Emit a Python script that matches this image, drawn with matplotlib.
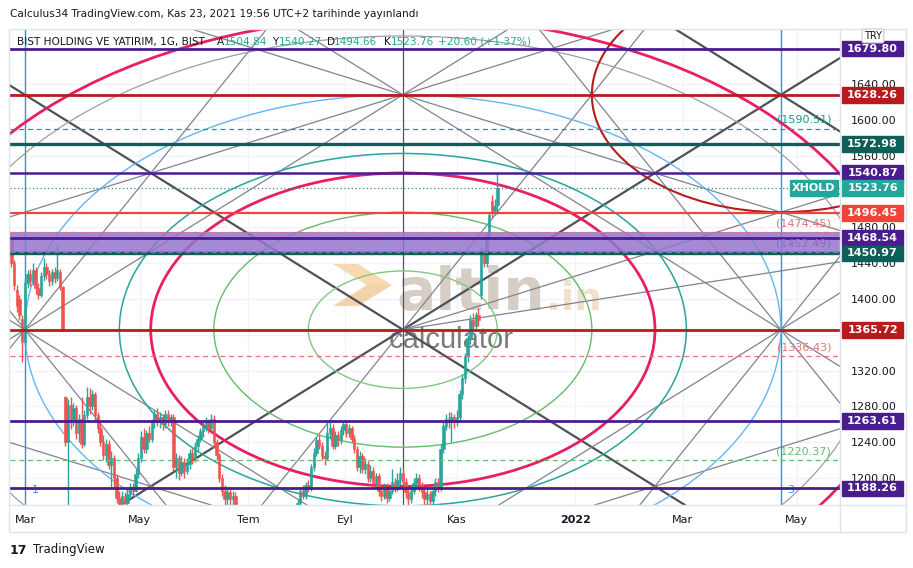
import numpy as np
import matplotlib.pyplot as plt
import matplotlib.patches as mpatches
import matplotlib.transforms as mtransforms

# daily candles, Feb 22 2021 .. Nov 23 2021 (bar index 0..180)
opens = [1466, 1440, 1410, 1400, 1378, 1352, 1418, 1428, 1420, 1432,
         1412, 1404, 1426, 1436, 1428, 1420, 1430, 1424, 1430, 1413,
         1290, 1240, 1282, 1262, 1278, 1250, 1266, 1238, 1270, 1290,
         1280, 1294, 1270, 1256, 1240, 1226, 1238, 1215, 1222, 1200,
         1178, 1170, 1180, 1172, 1182, 1190, 1186, 1205, 1222, 1246,
         1232, 1250, 1244, 1262, 1272, 1262, 1268, 1260, 1272, 1264,
         1268, 1212, 1222, 1206, 1218, 1208, 1216, 1228, 1222, 1236,
         1244, 1252, 1258, 1262, 1256, 1266, 1240, 1226, 1200, 1186,
         1176, 1184, 1176, 1180, 1168, 1160, 1150, 1145, 1152, 1140,
         1135, 1148, 1155, 1142, 1138, 1130, 1145, 1150, 1140, 1152,
         1158, 1148, 1155, 1160, 1150, 1158, 1150, 1172, 1186, 1180,
         1192, 1188, 1212, 1228, 1242, 1236, 1224, 1222, 1250, 1256,
         1236, 1248, 1242, 1254, 1260, 1250, 1256, 1244, 1232, 1212,
         1224, 1210, 1216, 1200, 1208, 1194, 1202, 1186, 1180, 1190,
         1178, 1186, 1196, 1188, 1198, 1206, 1196, 1184, 1176, 1186,
         1194, 1200, 1192, 1184, 1176, 1182, 1174, 1186, 1196, 1190,
         1232, 1258, 1266, 1262, 1268, 1262, 1268, 1294, 1312, 1336,
         1356, 1376, 1370, 1382, 1404, 1452, 1440, 1466, 1510, 1498,
         1504.84]
closes = [1440, 1416, 1392, 1382, 1352, 1418, 1428, 1420, 1432, 1412,
          1404, 1426, 1436, 1428, 1420, 1430, 1424, 1432, 1413, 1367,
          1240, 1282, 1262, 1278, 1250, 1266, 1238, 1270, 1290, 1280,
          1294, 1270, 1256, 1240, 1226, 1238, 1215, 1222, 1200, 1178,
          1170, 1180, 1172, 1182, 1190, 1186, 1205, 1222, 1246, 1232,
          1250, 1244, 1262, 1272, 1262, 1268, 1260, 1272, 1264, 1268,
          1212, 1222, 1206, 1218, 1208, 1216, 1228, 1222, 1236, 1244,
          1252, 1258, 1262, 1256, 1266, 1240, 1226, 1200, 1186, 1176,
          1184, 1176, 1180, 1168, 1160, 1150, 1145, 1152, 1140, 1135,
          1148, 1155, 1142, 1138, 1130, 1145, 1150, 1140, 1152, 1158,
          1148, 1155, 1160, 1150, 1158, 1150, 1172, 1186, 1180, 1192,
          1188, 1212, 1228, 1242, 1236, 1224, 1222, 1250, 1256, 1236,
          1248, 1242, 1254, 1260, 1250, 1256, 1244, 1232, 1212, 1224,
          1210, 1216, 1200, 1208, 1194, 1202, 1186, 1180, 1190, 1178,
          1186, 1196, 1188, 1198, 1206, 1196, 1184, 1176, 1186, 1194,
          1200, 1192, 1184, 1176, 1182, 1174, 1186, 1196, 1190, 1232,
          1258, 1266, 1262, 1268, 1262, 1268, 1294, 1312, 1336, 1356,
          1376, 1370, 1382, 1376, 1452, 1440, 1470, 1494, 1498, 1504,
          1523.76]
highs = [1470, 1444, 1416, 1404, 1382, 1422, 1432, 1434, 1440, 1436,
         1418, 1430, 1446, 1440, 1432, 1434, 1436, 1460, 1434, 1415,
         1292, 1288, 1290, 1284, 1282, 1272, 1290, 1276, 1302, 1300,
         1298, 1296, 1274, 1262, 1248, 1244, 1242, 1230, 1226, 1204,
         1186, 1186, 1184, 1188, 1194, 1194, 1210, 1228, 1252, 1256,
         1254, 1258, 1266, 1276, 1278, 1274, 1272, 1276, 1276, 1272,
         1272, 1228, 1226, 1224, 1222, 1222, 1232, 1234, 1240, 1248,
         1256, 1262, 1268, 1266, 1272, 1270, 1244, 1228, 1204, 1192,
         1190, 1188, 1186, 1184, 1164, 1158, 1152, 1156, 1154, 1142,
         1152, 1160, 1158, 1146, 1140, 1148, 1156, 1154, 1156, 1162,
         1160, 1158, 1164, 1162, 1160, 1162, 1176, 1190, 1192, 1196,
         1198, 1216, 1234, 1246, 1248, 1240, 1230, 1263, 1262, 1260,
         1252, 1252, 1258, 1264, 1264, 1260, 1258, 1248, 1236, 1230,
         1228, 1222, 1220, 1214, 1212, 1206, 1206, 1192, 1194, 1194,
         1190, 1210, 1200, 1206, 1212, 1210, 1200, 1190, 1192, 1200,
         1206, 1204, 1196, 1188, 1188, 1186, 1190, 1200, 1200, 1238,
         1262, 1272, 1274, 1274, 1272, 1276, 1298, 1316, 1340, 1360,
         1382, 1384, 1386, 1390, 1458, 1456, 1474, 1496, 1516, 1512,
         1540.27]
lows = [1436, 1410, 1386, 1376, 1330, 1348, 1412, 1414, 1416, 1406,
        1400, 1402, 1420, 1422, 1414, 1416, 1418, 1420, 1410, 1364,
        1236, 1168, 1255, 1258, 1244, 1240, 1234, 1236, 1266, 1272,
        1276, 1264, 1250, 1236, 1220, 1218, 1210, 1190, 1190, 1172,
        1164, 1162, 1164, 1168, 1176, 1180, 1184, 1200, 1218, 1228,
        1228, 1240, 1240, 1256, 1258, 1256, 1254, 1256, 1258, 1258,
        1208, 1200, 1198, 1202, 1200, 1204, 1210, 1216, 1218, 1230,
        1240, 1246, 1252, 1250, 1252, 1236, 1220, 1196, 1180, 1168,
        1168, 1170, 1168, 1160, 1148, 1140, 1138, 1142, 1134, 1130,
        1132, 1140, 1136, 1132, 1126, 1128, 1140, 1134, 1136, 1146,
        1142, 1144, 1150, 1146, 1148, 1146, 1146, 1168, 1176, 1176,
        1184, 1186, 1208, 1224, 1232, 1220, 1214, 1220, 1244, 1232,
        1232, 1236, 1238, 1248, 1246, 1246, 1240, 1228, 1208, 1206,
        1206, 1204, 1196, 1196, 1188, 1188, 1180, 1174, 1176, 1172,
        1174, 1182, 1184, 1186, 1192, 1190, 1178, 1170, 1172, 1182,
        1190, 1186, 1178, 1170, 1170, 1168, 1170, 1180, 1184, 1186,
        1228, 1254, 1256, 1240, 1256, 1258, 1264, 1288, 1306, 1330,
        1350, 1364, 1366, 1370, 1400, 1436, 1436, 1466, 1492, 1494,
        1494.66]

# horizontal levels drawn on the chart
solid_levels = [1679.80, 1628.26, 1572.98, 1540.87, 1496.45, 1468.54, 1450.97, 1365.72, 1263.61, 1188.26]
dashed_levels = [1590.51, 1474.45, 1452.49, 1336.43, 1220.37]
last_price = 1523.76

# gann box anchors (bar index, price)
left_bar, center_bar, right_bar = 5, 145, 285
mid_price, top_price = 1365.72, 1628.26
ellipse_factors = [0.25, 0.5, 0.667, 0.75, 1.0, 1.25, 1.333]

price_ticks = [1200, 1240, 1280, 1320, 1400, 1440, 1480, 1560, 1600, 1640]
date_ticks = [5.1, 47.6, 87.6, 123.6, 165, 208.8, 248.7, 290.9]
date_labels = ['Mar', 'May', 'Tem', 'Eyl', 'Kas', '2022', 'Mar', 'May']

UP, DOWN = '#26a69a', '#ef5350'
INDIGO, DRED, DTEAL, RED = '#4a1d8f', '#b71c1c', '#0d5f58', '#f0433a'

fig = plt.figure(figsize=(9.13, 5.68), dpi=100)
ax = fig.add_axes([10 / 913, 1 - 505 / 568, 830 / 913, 475 / 568])
x_min, x_max = -0.5, 306.9
ax.set_xlim(x_min, x_max)
ax.set_ylim(1169.8, 1700.6)
for s in ax.spines.values():
    s.set_visible(False)

def afx(px):
    return (px - 10) / 830

def afy(py):
    return (505 - py) / 475

# grid
for t in price_ticks + [1360]:
    ax.axhline(t, color='#f0f3fa', lw=1, zorder=0)
for t in date_ticks:
    ax.axvline(t, color='#f0f3fa', lw=1, zorder=0)

# watermark
ax.add_patch(mpatches.Polygon([(afx(333), afy(264)), (afx(358), afy(264)), (afx(392), afy(285)), (afx(367), afy(285))],
                              closed=True, transform=ax.transAxes, color='#f3cf96', alpha=0.75, lw=0, zorder=1))
ax.add_patch(mpatches.Polygon([(afx(367), afy(285)), (afx(392), afy(285)), (afx(358), afy(306)), (afx(333), afy(306))],
                              closed=True, transform=ax.transAxes, color='#e9b870', alpha=0.6, lw=0, zorder=1))
ax.text(afx(396), afy(310), 'altin', transform=ax.transAxes, fontsize=42, fontweight='bold',
        color='#cfc6ba', alpha=0.85, ha='left', va='baseline', zorder=1)
ax.text(afx(546), afy(310), '.in', transform=ax.transAxes, fontsize=28, fontweight='bold',
        color='#efdcc4', alpha=0.85, ha='left', va='baseline', zorder=1)
ax.text(afx(389), afy(348), 'calculator', transform=ax.transAxes, fontsize=21, family='Liberation Sans',
        color='#7b7b7b', ha='left', va='baseline', zorder=1)

# gann fan lines
k = (top_price - mid_price) / (center_bar - left_bar)
bottom_price = 2 * mid_price - top_price
DARK, GRAY = '#4f5159', '#80838c'
fans = [
    ((center_bar, mid_price), 1, DARK, 1.6), ((center_bar, mid_price), -1, DARK, 1.6),
    ((center_bar, mid_price), 2, GRAY, 0.9),
    ((left_bar, mid_price), 1, GRAY, 0.9), ((left_bar, mid_price), -1, GRAY, 0.9),
    ((left_bar, mid_price), 2, GRAY, 0.9), ((left_bar, mid_price), -2, GRAY, 0.9),
    ((right_bar, mid_price), 1, GRAY, 0.9), ((right_bar, mid_price), -1, GRAY, 0.9),
    ((right_bar, mid_price), 2, GRAY, 0.9), ((right_bar, mid_price), -2, GRAY, 0.9),
    ((center_bar, top_price), 0.5, GRAY, 0.9), ((center_bar, top_price), -0.5, GRAY, 0.9),
    ((center_bar, bottom_price), 0.5, GRAY, 0.9), ((center_bar, bottom_price), -0.5, GRAY, 0.9),
    ((right_bar, top_price), -1, DARK, 1.6),
]
for pt, m, c, lw in fans:
    ax.axline(pt, slope=m * k, color=c, lw=lw, zorder=2)
# fan rays from the center toward the right only
for m in [0.5, 0.25]:
    ax.plot([center_bar, x_max], [mid_price, mid_price + m * k * (x_max - center_bar)], color=GRAY, lw=0.9, zorder=2)

# vertical lines
ax.axvline(left_bar, color='#2196f3', lw=1, zorder=2)
ax.axvline(right_bar, color='#2196f3', lw=1, zorder=2)
ax.axvline(center_bar, color='#50535e', lw=0.9, zorder=2)
blend = mtransforms.blended_transform_factory(ax.transData, ax.transAxes)
ax.text(left_bar + 2.5, 0.025, '1', transform=blend, color='#2196f3', fontsize=8, zorder=2)
ax.text(right_bar + 2.5, 0.025, '3', transform=blend, color='#2196f3', fontsize=8, zorder=2)

# ellipses around center, one around top-right corner
ell_style = {0.25: ('#81c784', 1), 0.5: ('#66bb6a', 1), 0.667: ('#e91e63', 2), 0.75: ('#26a69a', 1.1),
             1.0: ('#64b5f6', 1), 1.25: ('#9e9e9e', 0.9), 1.333: ('#e91e63', 2)}
half_w = center_bar - left_bar
half_h = top_price - mid_price
for f in ellipse_factors:
    c, lw = ell_style[f]
    ax.add_patch(mpatches.Ellipse((center_bar, mid_price), 2 * f * half_w, 2 * f * half_h,
                                  fill=False, ec=c, lw=lw, zorder=2.5))
ax.add_patch(mpatches.Ellipse((right_bar, top_price), half_w, half_h, fill=False, ec=DRED, lw=1.5, zorder=2.5))

# candles
x = np.arange(len(closes))
o, h, l, c = map(np.array, (opens, highs, lows, closes))
cols = np.where(c >= o, UP, DOWN)
ax.vlines(x, l, h, colors=cols, lw=1, zorder=3)
ax.bar(x, np.maximum(np.abs(c - o), 1.2), bottom=np.minimum(o, c), width=0.9, color=cols,
       edgecolor=cols, lw=0.4, zorder=3)

# band between dashed levels
ax.axhspan(dashed_levels[2], dashed_levels[1], color='#9575cd', alpha=0.85, lw=0, zorder=3.4)

# horizontal lines
solid_style = {1679.80: (INDIGO, 2), 1628.26: (DRED, 2), 1572.98: (DTEAL, 2.4), 1540.87: (INDIGO, 1.8),
               1496.45: (RED, 1.6), 1468.54: (INDIGO, 2), 1450.97: (DTEAL, 2.4), 1365.72: (DRED, 2),
               1263.61: (INDIGO, 2), 1188.26: (INDIGO, 2)}
for p in solid_levels:
    col, lw = solid_style[p]
    ax.axhline(p, color=col, lw=lw, zorder=4)
yblend = mtransforms.blended_transform_factory(ax.transAxes, ax.transData)
dash_style = {1590.51: '#1d9a8b', 1474.45: '#e57373', 1452.49: '#8e6cc0', 1336.43: '#e57373', 1220.37: '#66bb6a'}
for p in dashed_levels:
    col = dash_style[p]
    ax.axhline(p, color=col, lw=0.9, ls=(0, (4, 3)), zorder=4)
    ax.text(afx(831), p + 4, '(%.2f)' % p, transform=yblend, color=col, fontsize=8,
            ha='right', va='bottom', zorder=5)
ax.axhline(last_price, color='#3b8d86', lw=0.9, ls=(0, (1, 2)), zorder=4)

# right price labels
label_colors = {1679.80: INDIGO, 1628.26: DRED, 1572.98: DTEAL, 1540.87: INDIGO, 1523.76: UP, 1496.45: RED,
                1468.54: INDIGO, 1450.97: DTEAL, 1365.72: DRED, 1263.61: INDIGO, 1188.26: INDIGO}
box_h = 17.5
for p, col in label_colors.items():
    ax.add_patch(mpatches.Rectangle((afx(842), p - box_h / 2), afx(903) - afx(842), box_h, transform=yblend,
                                    color=col, clip_on=False, zorder=10))
    ax.text(afx(872.5), p, '%.2f' % p, transform=yblend, color='white', fontsize=8, fontweight='bold',
            ha='center', va='center', clip_on=False, zorder=11)
ax.add_patch(mpatches.Rectangle((afx(790), last_price - box_h / 2), afx(838) - afx(790), box_h, transform=yblend,
                                color=UP, clip_on=False, zorder=10))
ax.text(afx(814), last_price, 'XHOLD', transform=yblend, color='white', fontsize=8, fontweight='bold',
        ha='center', va='center', zorder=11)

# axes ticks
ax.yaxis.tick_right()
ax.set_yticks(price_ticks)
ax.set_yticklabels(['%.2f' % t for t in price_ticks])
ax.tick_params(axis='y', length=0, pad=8, labelsize=8, labelcolor='#131722')
ax.set_xticks(date_ticks)
ax.set_xticklabels(date_labels)
ax.tick_params(axis='x', length=0, pad=7, labelsize=8, labelcolor='#131722')
ax.get_xticklabels()[5].set_fontweight('bold')

# frame
fig.add_artist(mpatches.Rectangle((9 / 913, 1 - 532 / 568), 897 / 913, 503 / 568, transform=fig.transFigure,
                                  fill=False, ec='#e0e3eb', lw=1))
fig.add_artist(plt.Line2D([840 / 913, 840 / 913], [1 - 532 / 568, 1 - 29 / 568], transform=fig.transFigure, color='#e0e3eb', lw=1))
fig.add_artist(plt.Line2D([9 / 913, 906 / 913], [1 - 505 / 568, 1 - 505 / 568], transform=fig.transFigure, color='#e0e3eb', lw=1))

# TRY box
fig.text(873 / 913, 1 - 36 / 568, 'TRY', fontsize=7, color='#131722', ha='center', va='center', zorder=20,
         bbox=dict(boxstyle='round,pad=0.2', fc='white', ec='#c8cbd3', lw=0.8))

# header texts
fig.text(10 / 913, 1 - 14 / 568, 'Calculus34 TradingView.com, Kas 23, 2021 19:56 UTC+2 tarihinde yayınlandı',
         fontsize=7.6, color='#131722', va='center')
hy = 1 - 42 / 568
fig.text(17 / 913, hy, 'BIST HOLDING VE YATIRIM, 1G, BIST', fontsize=7.6, color='#131722', va='center', zorder=20)
parts = [(217, 'A', '#131722'), (224, '1504.84', UP), (272, 'Y', '#131722'), (279, '1540.27', UP),
         (327, 'D', '#131722'), (334, '1494.66', UP), (384, 'K', '#131722'), (391, '1523.76', UP),
         (438, '+20.60 (+1.37%)', UP)]
for px, s, col in parts:
    fig.text(px / 913, hy, s, fontsize=7.6, color=col, va='center', zorder=20)

# footer
fig.text(10 / 913, 1 - 550 / 568, '17', fontsize=9, fontweight='bold', color='#131722', va='center')
fig.text(33 / 913, 1 - 550 / 568, 'TradingView', fontsize=8.5, color='#131722', va='center')

fig.savefig('out.png', dpi=100)
